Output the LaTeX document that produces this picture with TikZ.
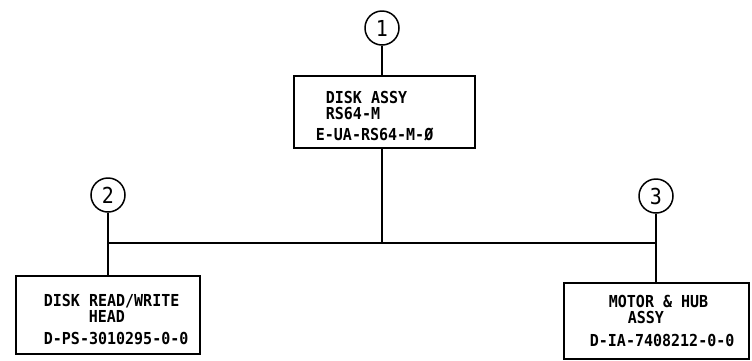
\documentclass[tikz,border=0pt]{standalone}
\usepackage{fontspec}
\newfontfamily\lettering{DejaVu Sans Mono}
\newcommand\talltext[1]{\scalebox{1}[1.1]{#1}}
\begin{document}
\begin{tikzpicture}[x=1pt,y=-1pt,
  line width=1.8pt,
  box/.style={draw,line width=2.2pt,inner sep=0pt,anchor=north west},
  num/.style={draw,circle,line width=1.5pt,minimum size=34pt,inner sep=0pt,font=\lettering\fontsize{20}{20}\selectfont},
  txt/.style={anchor=base west,inner sep=0pt,font=\lettering\bfseries\fontsize{15}{15}\selectfont}]
\useasboundingbox (0,0) rectangle (752,360);
% circles
\node[num] (c1) at (382,28) {\talltext{1}};
\node[num] (c2) at (108,195) {\talltext{2}};
\node[num] (c3) at (656,196) {\talltext{3}};
% boxes
\node[box,minimum width=181pt,minimum height=72pt] (b1) at (293,75) {};
\node[box,minimum width=184pt,minimum height=78pt] (b2) at (15,275) {};
\node[box,minimum width=185pt,minimum height=76pt] (b3) at (563,282) {};
% texts
\node[txt] (t11) at (325,103) {\talltext{DISK ASSY}};
\node[txt] (t12) at (325,119) {\talltext{RS64-M}};
\node[txt] (t13) at (315,140) {\talltext{E-UA-RS64-M-Ø}};
\node[txt] (t21) at (43,306) {\talltext{DISK READ/WRITE}};
\node[txt] (t22) at (88,322) {\talltext{HEAD}};
\node[txt] (t23) at (43,344) {\talltext{D-PS-3010295-0-0}};
\node[txt] (t31) at (608,307) {\talltext{MOTOR \& HUB}};
\node[txt] (t32) at (627,323) {\talltext{ASSY}};
\node[txt] (t33) at (589,346) {\talltext{D-IA-7408212-0-0}};
% connectors
\coordinate (jl) at (108,243);
\coordinate (jr) at (656,243);
\coordinate (jm) at (382,243);
\draw (c1) -- (c1 |- b1.north);
\draw (b1.south -| c1) -- (jm);
\draw (c2) -- (c2 |- b2.north);
\draw (c3) -- (c3 |- b3.north);
\draw (jl) -- (jr);
\end{tikzpicture}
\end{document}
